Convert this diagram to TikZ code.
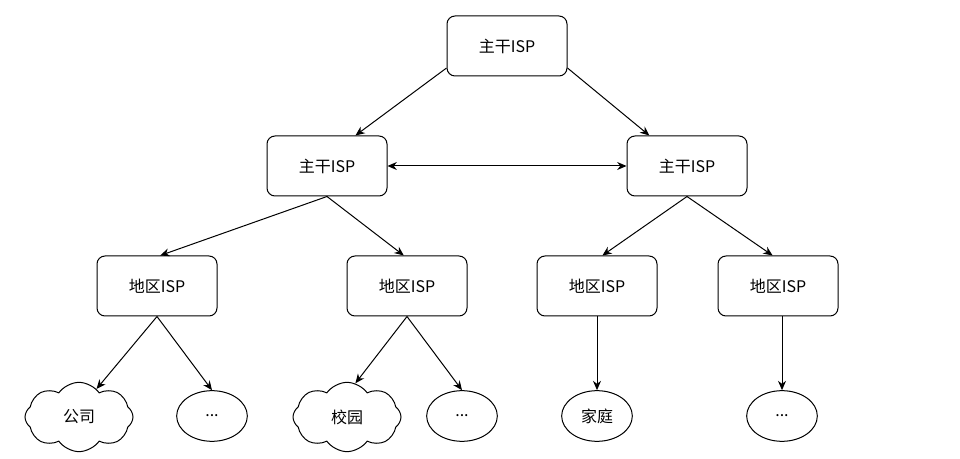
\documentclass[tikz,border=0pt]{standalone}
\usepackage{fontspec}
\setmainfont{Noto Sans CJK SC}
\usetikzlibrary{shapes.symbols,shapes.geometric,arrows.meta}

\begin{document}
\begin{tikzpicture}[
      x=0.75pt, y=-0.75pt,
      every node/.style={font=\fontsize{12}{14}\selectfont},
      isp/.style={
        rectangle,
        rounded corners=6pt,
        draw,
        line width=0.75pt,
        minimum width=90pt,
        minimum height=45pt,
        inner sep=0pt
      },
      user/.style={ellipse, draw, line width=0.75pt, minimum width=53pt, minimum height=38pt, inner sep=0pt},
      net/.style={cloud, draw, cloud puffs=8, cloud puff arc=110, aspect=1.5, line width=0.75pt, minimum width=81pt, minimum height=52pt, inner sep=0pt},
      arrow/.style={-{Stealth[length=7pt,width=6pt]}, line width=0.75pt}
    ]
      \useasboundingbox (0,0) rectangle (960,459);
      % backbone
      \node[isp] (bb) at (507,46) {主干ISP};
      \node[isp] (bbl) at (327,166) {主干ISP};
      \node[isp] (bbr) at (687,166) {主干ISP};
      % regional
      \node[isp] (rega) at (157,286) {地区ISP};
      \node[isp] (regb) at (407,286) {地区ISP};
      \node[isp] (regc) at (597,286) {地区ISP};
      \node[isp] (regd) at (778,286) {地区ISP};
      % users
      \node[net] (firm) at (79,417) {公司};
      \node[user] (dotsa) at (212,416) {...};
      \node[net] (campus) at (347,417) {校园};
      \node[user] (dotsb) at (462,416) {...};
      \node[user] (home) at (597,416) {家庭};
      \node[user] (dotsd) at (782,416) {...};
      \draw[arrow] (bb.200) -- (bbl.47);
      \draw[arrow] (bb.-20) -- (bbr.141);
      \draw[arrow, {Stealth[length=7pt,width=6pt]}-{Stealth[length=7pt,width=6pt]}] (bbl) -- (bbr);
      \draw[arrow] (bbl.south) -- (rega.84);
      \draw[arrow] (bbl.south) -- (regb.96);
      \draw[arrow] (bbr.south) -- (regc.80);
      \draw[arrow] (bbr.south) -- (regd.100);
      \draw[arrow] (rega.south) -- (firm.58);
      \draw[arrow] (rega.south) -- (dotsa.north);
      \draw[arrow] (regb.south) -- (campus.76);
      \draw[arrow] (regb.south) -- (dotsb.north);
      \draw[arrow] (regc) -- (home);
      \draw[arrow] (regd.south -| dotsd.north) -- (dotsd);
    \end{tikzpicture}
\end{document}
